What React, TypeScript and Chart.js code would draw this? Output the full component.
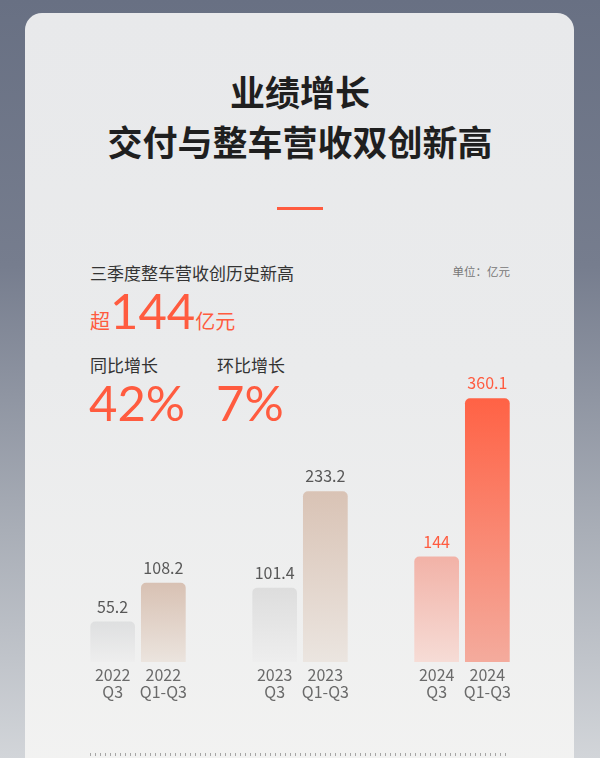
import { Chart, registerables } from 'chart.js';
import { useEffect, useRef } from 'react';

Chart.register(...registerables);

const years = ['2022', '2023', '2024'];
const periods = ['Q3', 'Q1-Q3'];
const q3Values = [55.2, 101.4, 144];
const ytdValues = [108.2, 233.2, 360.1];

// top / bottom colours of each bar gradient, per dataset and per year
const q3Colors = [
	['#dedfe0', '#eeeeee'],
	['#dddddd', '#eeeeee'],
	['#f2b2a7', '#f6dcd6'],
];
const ytdColors = [
	['#d8c1b3', '#ebe4de'],
	['#d9c3b5', '#ebe5e0'],
	['#ff6245', '#f4ab9d'],
];

const ORANGE = '#ff5b3f';
const CJK = "'Noto Sans CJK SC', 'Noto Sans', sans-serif";
const NUM = "Lato, 'Noto Sans CJK SC', sans-serif";

const gradientFill = (palette: string[][]) => (ctx: any) => {
	const chart = ctx.chart;
	const c = palette[ctx.dataIndex] || palette[0];
	if (!chart.chartArea || ctx.type !== 'data') return c[0];
	const y = chart.scales.y;
	const top = y.getPixelForValue(ctx.raw);
	const base = y.getPixelForValue(0);
	const g = chart.ctx.createLinearGradient(0, top, 0, base);
	g.addColorStop(0, c[0]);
	g.addColorStop(1, c[1]);
	return g;
};

// value above each bar and the two-line label below it
const barLabels = {
	id: 'barLabels',
	afterDatasetsDraw(chart: any) {
		const { ctx } = chart;
		const base = chart.scales.y.getPixelForValue(0);
		ctx.save();
		ctx.textAlign = 'center';
		ctx.textBaseline = 'middle';
		chart.data.datasets.forEach((ds: any, di: number) => {
			const meta = chart.getDatasetMeta(di);
			meta.data.forEach((el: any, i: number) => {
				const hot = i === years.length - 1;
				ctx.font = `16px ${CJK}`;
				ctx.fillStyle = hot ? ORANGE : '#585858';
				ctx.fillText(String(ds.data[i]), el.x, el.y - 15);
				ctx.font = `16px ${CJK}`;
				ctx.fillStyle = '#6a6a6a';
				ctx.fillText(years[i], el.x, base + 13);
				ctx.fillText(periods[di], el.x, base + 30);
			});
		});
		ctx.restore();
	},
};

const BarChart = () => {
	const canvasRef = useRef<HTMLCanvasElement | null>(null);

	useEffect(() => {
		if (!canvasRef.current) return;
		const chart = new Chart(canvasRef.current, {
			type: 'bar',
			data: {
				labels: years,
				datasets: [
					{
						label: periods[0],
						data: q3Values,
						backgroundColor: gradientFill(q3Colors),
						borderRadius: { topLeft: 5, topRight: 5 },
						borderSkipped: 'start',
					},
					{
						label: periods[1],
						data: ytdValues,
						backgroundColor: gradientFill(ytdColors),
						borderRadius: { topLeft: 5, topRight: 5 },
						borderSkipped: 'start',
					},
				],
			},
			options: {
				animation: false,
				responsive: true,
				maintainAspectRatio: false,
				categoryPercentage: 0.626,
				barPercentage: 0.882,
				layout: { padding: { top: 9, bottom: 96, left: 0, right: 0 } },
				scales: {
					x: { display: false },
					y: { display: false, min: 0, max: 400 },
				},
				plugins: {
					legend: { display: false },
					tooltip: { enabled: false },
				},
			},
			plugins: [barLabels],
		});
		return () => chart.destroy();
	}, []);

	return (
		<div style={{ position: 'absolute', left: 57, top: 360, width: 486, height: 398 }}>
			<canvas ref={canvasRef}></canvas>
		</div>
	);
};

const App = () => {
	return (
		<div
			style={{
				position: 'absolute',
				left: 0,
				top: 0,
				width: 600,
				height: 758,
				overflow: 'hidden',
				background: 'linear-gradient(180deg, #687083 0%, #767d8e 35%, #a9aeb7 70%, #d2d5d9 100%)',
				fontFamily: CJK,
			}}
		>
			<div
				style={{
					position: 'absolute',
					left: 25,
					top: 13,
					width: 549,
					height: 800,
					borderRadius: 17,
					background: 'linear-gradient(180deg, #e8e9eb 0%, #eaebec 45%, #f3f3f2 100%)',
				}}
			/>
			<div style={{ position: 'absolute', left: 0, width: 600, top: 66, textAlign: 'center', fontSize: 35, lineHeight: '50px', fontWeight: 700, color: '#1f1f1f' }}>
				业绩增长
				<br />
				交付与整车营收双创新高
			</div>
			<div style={{ position: 'absolute', left: 277, top: 207, width: 46, height: 3, background: ORANGE }} />

			<div style={{ position: 'absolute', left: 90, top: 262, fontSize: 17, lineHeight: '22px', color: '#333' }}>三季度整车营收创历史新高</div>
			<div style={{ position: 'absolute', right: 90, top: 263, fontSize: 11.5, lineHeight: '16px', color: '#777' }}>单位：亿元</div>

			<div style={{ position: 'absolute', left: 90, top: 282, height: 60, display: 'flex', alignItems: 'baseline', color: ORANGE, lineHeight: '56px' }}>
				<span style={{ fontSize: 20 }}>超</span>
				<span style={{ fontSize: 49, fontFamily: NUM, fontWeight: 400 }}>144</span>
				<span style={{ fontSize: 20 }}>亿元</span>
			</div>

			<div style={{ position: 'absolute', left: 90, top: 354, fontSize: 17, lineHeight: '22px', color: '#333' }}>同比增长</div>
			<div style={{ position: 'absolute', left: 217, top: 354, fontSize: 17, lineHeight: '22px', color: '#333' }}>环比增长</div>

			<div style={{ position: 'absolute', left: 89, top: 374, fontSize: 49, lineHeight: '56px', fontFamily: NUM, fontWeight: 400, color: ORANGE }}>42%</div>
			<div style={{ position: 'absolute', left: 216, top: 374, fontSize: 49, lineHeight: '56px', fontFamily: NUM, fontWeight: 400, color: ORANGE }}>7%</div>

			<BarChart />

			<div
				style={{
					position: 'absolute',
					left: 90,
					top: 753,
					width: 417,
					height: 3,
					background: 'repeating-linear-gradient(90deg, #a5a5a5 0 1px, transparent 1px 5px)',
				}}
			/>
		</div>
	);
};

export default App;
